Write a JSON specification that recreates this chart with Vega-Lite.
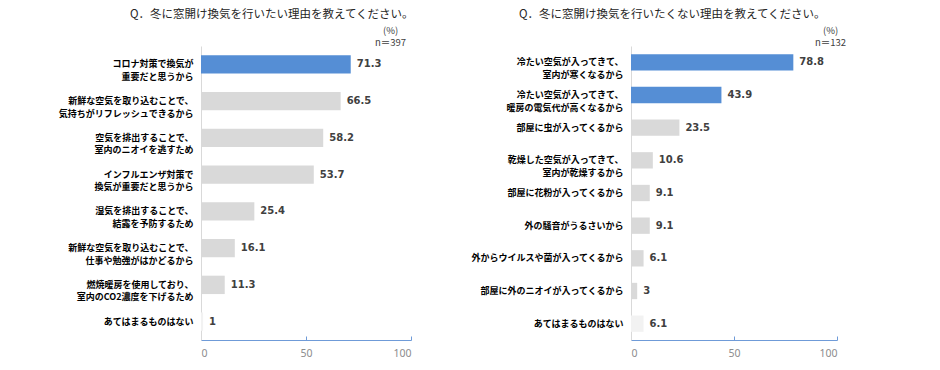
{
  "$schema": "https://vega.github.io/schema/vega-lite/v6.json",
  "background": "white",
  "padding": {"left": 57, "top": 9, "right": 5, "bottom": 5},
  "spacing": 54,
  "config": {"font": "Noto Sans CJK JP", "view": {"stroke": null}},
  "datasets": {
    "want": [
      {"reason": "コロナ対策で換気が\n重要だと思うから", "pct": 71.3},
      {"reason": "新鮮な空気を取り込むことで、\n気持ちがリフレッシュできるから", "pct": 66.5},
      {"reason": "空気を排出することで、\n室内のニオイを逃すため", "pct": 58.2},
      {"reason": "インフルエンザ対策で\n換気が重要だと思うから", "pct": 53.7},
      {"reason": "湿気を排出することで、\n結露を予防するため", "pct": 25.4},
      {"reason": "新鮮な空気を取り込むことで、\n仕事や勉強がはかどるから", "pct": 16.1},
      {"reason": "燃焼暖房を使用しており、\n室内のCO2濃度を下げるため", "pct": 11.3},
      {"reason": "あてはまるものはない", "pct": 1}
    ],
    "notwant": [
      {"reason": "冷たい空気が入ってきて、\n室内が寒くなるから", "pct": 78.8},
      {"reason": "冷たい空気が入ってきて、\n暖房の電気代が高くなるから", "pct": 43.9},
      {"reason": "部屋に虫が入ってくるから", "pct": 23.5},
      {"reason": "乾燥した空気が入ってきて、\n室内が乾燥するから", "pct": 10.6},
      {"reason": "部屋に花粉が入ってくるから", "pct": 9.1},
      {"reason": "外の騒音がうるさいから", "pct": 9.1},
      {"reason": "外からウイルスや菌が入ってくるから", "pct": 6.1},
      {"reason": "部屋に外のニオイが入ってくるから", "pct": 3},
      {"reason": "あてはまるものはない", "pct": 6.1}
    ]
  },
  "hconcat": [
    {
      "width": 210,
      "height": 294,
      "data": {"name": "want"},
      "title": {"text": "Q．冬に窓開け換気を行いたい理由を教えてください。", "anchor": "start", "frame": "group", "dx": -71, "fontSize": 11.5, "fontWeight": "normal", "color": "#262626", "offset": 5},
      "encoding": {
        "y": {"field": "reason", "type": "nominal", "sort": null,
          "scale": {"paddingInner": 0.5, "paddingOuter": 0.25},
          "axis": {"title": null, "ticks": false, "domainColor": "#D9D9D9", "labelFontSize": 9, "labelFontWeight": "bold", "labelColor": "#000000", "labelPadding": 8, "labelLineHeight": 12.5, "labelLimit": 300, "labelExpr": "split(datum.label, '\\n')"}}
      },
      "layer": [
        {
          "mark": {"type": "bar"},
          "encoding": {
            "x": {"field": "pct", "type": "quantitative", "scale": {"domain": [0, 100]},
              "axis": {"orient": "bottom", "values": [0, 50, 100], "grid": false, "title": null, "domainColor": "#6F9BD8", "tickColor": "#6F9BD8", "tickSize": -4, "labelColor": "#8C8C8C", "labelFontSize": 10.5, "labelFont": "Noto Sans", "labelPadding": 12}},
            "color": {"condition": [{"test": "datum.pct > 70", "value": "#558ED5"}, {"test": "datum.reason == 'あてはまるものはない'", "value": "#F2F2F2"}], "value": "#D9D9D9"}
          }
        },
        {
          "mark": {"type": "text", "align": "left", "dx": 6, "font": "DejaVu Sans", "fontWeight": "bold", "fontSize": 10, "color": "#404040"},
          "encoding": {
            "x": {"field": "pct", "type": "quantitative", "scale": {"domain": [0, 100]},
              "axis": {"orient": "top", "domain": false, "ticks": false, "labels": false, "grid": false, "title": ["(%)", "n＝397"], "titleAnchor": "end", "titleAlign": "center", "titleX": 189, "titleFontSize": 9.5, "titleFontWeight": "normal", "titleColor": "#404040", "titlePadding": -1.5, "titleLineHeight": 12}},
            "text": {"field": "pct", "type": "quantitative"}
          }
        }
      ],
      "resolve": {"axis": {"x": "independent"}}
    },
    {
      "width": 206,
      "height": 294,
      "data": {"name": "notwant"},
      "title": {"text": "Q．冬に窓開け換気を行いたくない理由を教えてください。", "anchor": "start", "frame": "group", "dx": -112, "fontSize": 11.5, "fontWeight": "normal", "color": "#262626", "offset": 5},
      "encoding": {
        "y": {"field": "reason", "type": "nominal", "sort": null,
          "scale": {"paddingInner": 0.5, "paddingOuter": 0.25},
          "axis": {"title": null, "ticks": false, "domainColor": "#D9D9D9", "labelFontSize": 9, "labelFontWeight": "bold", "labelColor": "#000000", "labelPadding": 8, "labelLineHeight": 12.5, "labelLimit": 300, "labelExpr": "split(datum.label, '\\n')"}}
      },
      "layer": [
        {
          "mark": {"type": "bar"},
          "encoding": {
            "x": {"field": "pct", "type": "quantitative", "scale": {"domain": [0, 100]},
              "axis": {"orient": "bottom", "values": [0, 50, 100], "grid": false, "title": null, "domainColor": "#6F9BD8", "tickColor": "#6F9BD8", "tickSize": -4, "labelColor": "#8C8C8C", "labelFontSize": 10.5, "labelFont": "Noto Sans", "labelPadding": 12}},
            "color": {"condition": [{"test": "datum.pct > 40", "value": "#558ED5"}, {"test": "datum.reason == 'あてはまるものはない'", "value": "#F2F2F2"}], "value": "#D9D9D9"}
          }
        },
        {
          "mark": {"type": "text", "align": "left", "dx": 6, "font": "DejaVu Sans", "fontWeight": "bold", "fontSize": 10, "color": "#404040"},
          "encoding": {
            "x": {"field": "pct", "type": "quantitative", "scale": {"domain": [0, 100]},
              "axis": {"orient": "top", "domain": false, "ticks": false, "labels": false, "grid": false, "title": ["(%)", "n＝132"], "titleAnchor": "end", "titleAlign": "center", "titleX": 199, "titleFontSize": 9.5, "titleFontWeight": "normal", "titleColor": "#404040", "titlePadding": -1.5, "titleLineHeight": 12}},
            "text": {"field": "pct", "type": "quantitative"}
          }
        }
      ],
      "resolve": {"axis": {"x": "independent"}}
    }
  ]
}
